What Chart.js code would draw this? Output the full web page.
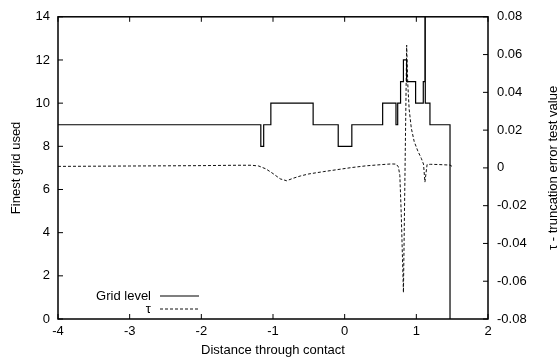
<!DOCTYPE html>
<html>
<head>
<meta charset="utf-8">
<script src="https://cdn.jsdelivr.net/npm/chart.js@4/dist/chart.umd.min.js"></script>
<style>
  html, body { margin: 0; padding: 0; background: #fff; }
  #wrap { width: 559px; height: 360px; }
</style>
</head>
<body>
<div id="wrap"><canvas id="gridChart"></canvas></div>
<script>
// grid level: value starting at each x (step function)
const gridX = [-4, -1.17, -1.13, -1.03, -0.44, -0.09, 0.10, 0.53, 0.716, 0.74, 0.78, 0.82, 0.865, 0.99, 1.097, 1.12, 1.125, 1.19, 1.47];
const gridLevel = [9, 8, 9, 10, 9, 8, 9, 10, 9, 10, 11, 12, 11, 10, 11, 14, 10, 9, 0];

// tau - truncation error test value
const tauX = [-4, -3.5, -3, -2.5, -2, -1.5, -1.3, -1.2, -1.1, -1.0, -0.9, -0.81, -0.72, -0.62, -0.5, -0.3, -0.1, 0.1, 0.3, 0.5, 0.65, 0.72, 0.75, 0.77, 0.79, 0.82, 0.865, 0.88, 0.9, 0.93, 0.97, 1.02, 1.07, 1.10, 1.12, 1.15, 1.2, 1.3, 1.47, 1.52];
const tau = [0.0008, 0.0009, 0.0010, 0.0011, 0.0012, 0.0014, 0.0014, 0.0010, -0.0005, -0.003, -0.0058, -0.0068, -0.0055, -0.0043, -0.0032, -0.0020, -0.0009, 0.0002, 0.0011, 0.0017, 0.0021, 0.0020, 0.0005, -0.004, -0.025, -0.066, 0.065, 0.045, 0.031, 0.021, 0.014, 0.009, 0.005, 0.002, -0.0075, 0.0018, 0.0019, 0.0018, 0.0015, 0.0003];

const xTitle = "Distance through contact";
const yTitle = "Finest grid used";
const y2Title = "τ - truncation error test value";

Chart.defaults.font.family = "'Liberation Sans', Arial, sans-serif";
Chart.defaults.font.size = 13;
Chart.defaults.color = "#000";

const toPoints = (xs, ys) => xs.map((x, i) => ({ x: x, y: ys[i] }));

// gnuplot-like frame, inward ticks, legend and right title
const framePlugin = {
    id: "frame",
    afterDatasetsDraw(chart) {
        const { ctx, chartArea: a, scales } = chart;
        ctx.save();
        ctx.strokeStyle = "#000";
        ctx.lineWidth = 1.5;
        ctx.strokeRect(a.left, a.top, a.right - a.left, a.bottom - a.top);

        ctx.lineWidth = 1;
        ctx.beginPath();
        scales.x.ticks.forEach(t => {
            const px = scales.x.getPixelForValue(t.value);
            ctx.moveTo(px, a.bottom); ctx.lineTo(px, a.bottom - 5);
            ctx.moveTo(px, a.top); ctx.lineTo(px, a.top + 5);
        });
        scales.y.ticks.forEach(t => {
            const py = scales.y.getPixelForValue(t.value);
            ctx.moveTo(a.left, py); ctx.lineTo(a.left + 5, py);
        });
        scales.y2.ticks.forEach(t => {
            const py = scales.y2.getPixelForValue(t.value);
            ctx.moveTo(a.right, py); ctx.lineTo(a.right - 5, py);
        });
        ctx.stroke();

        // legend
        const ds = chart.data.datasets;
        ctx.font = "13px 'Liberation Sans', Arial, sans-serif";
        ctx.fillStyle = "#000";
        ctx.textAlign = "right";
        ctx.textBaseline = "middle";
        const lx = a.left + 93, ly = a.bottom - 23;
        ds.forEach((d, i) => {
            const yy = ly + i * 13;
            ctx.fillText(d.label, lx, yy);
            ctx.beginPath();
            ctx.setLineDash(d.borderDash || []);
            ctx.strokeStyle = d.borderColor;
            ctx.lineWidth = d.borderWidth;
            ctx.moveTo(lx + 9, yy);
            ctx.lineTo(lx + 48, yy);
            ctx.stroke();
        });
        ctx.setLineDash([]);

        // right axis title, reading upwards
        ctx.translate(chart.width - 6, (a.top + a.bottom) / 2);
        ctx.rotate(-Math.PI / 2);
        ctx.textAlign = "center";
        ctx.fillText(y2Title, 0, 0);
        ctx.restore();
    }
};

new Chart(document.getElementById("gridChart"), {
    type: "line",
    data: {
        datasets: [
            {
                label: "Grid level",
                data: toPoints(gridX, gridLevel),
                yAxisID: "y",
                stepped: "before",
                borderColor: "#000",
                borderWidth: 1.2,
                pointRadius: 0,
                fill: false,
            },
            {
                label: "τ",
                data: toPoints(tauX, tau),
                yAxisID: "y2",
                borderColor: "#111",
                borderWidth: 1,
                borderDash: [3, 2],
                tension: 0,
                pointRadius: 0,
                fill: false,
            },
        ],
    },
    options: {
        responsive: true,
        maintainAspectRatio: false,
        animation: false,
        layout: { padding: { top: 15, left: 0, right: 0, bottom: 0 } },
        plugins: {
            legend: { display: false },
            tooltip: { enabled: false },
        },
        scales: {
            x: {
                type: "linear",
                min: -4,
                max: 2,
                ticks: { stepSize: 1, padding: 5 },
                grid: { display: false, drawTicks: false },
                border: { display: false },
                title: { display: true, text: xTitle, padding: { top: 0, bottom: 2 } },
                afterFit: (s) => { s.height = 41; },
            },
            y: {
                position: "left",
                min: 0,
                max: 14,
                ticks: { stepSize: 2, padding: 8 },
                grid: { display: false, drawTicks: false },
                border: { display: false },
                title: { display: true, text: yTitle, padding: { top: 9, bottom: 0 } },
                afterFit: (s) => { s.width = 58; },
            },
            y2: {
                position: "right",
                min: -0.08,
                max: 0.08,
                ticks: {
                    stepSize: 0.02,
                    padding: 9,
                    callback: (v) => String(+v.toFixed(2)),
                },
                grid: { display: false, drawTicks: false },
                border: { display: false },
                afterFit: (s) => { s.width = 71; },
            },
        },
    },
    plugins: [framePlugin],
});
</script>
</body>
</html>
